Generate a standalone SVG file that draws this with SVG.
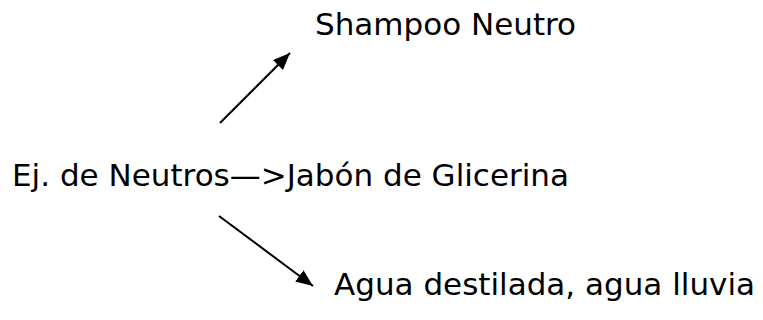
<svg xmlns="http://www.w3.org/2000/svg" width="763" height="320" viewBox="0 0 763 320">
<style>
.t{font-family:"DejaVu Sans",Verdana,sans-serif;font-size:31px;fill:#000}
.c{stroke:#000;stroke-width:2;fill:none}
</style>
<defs>
<marker id="ah" markerUnits="userSpaceOnUse" markerWidth="18" markerHeight="14" refX="17" refY="7" orient="auto">
<path d="M0,0 L17,7 L0,14 Z" fill="#000"/>
</marker>
</defs>
<g id="connectors">
<line class="c" x1="220" y1="123" x2="290" y2="53" marker-end="url(#ah)"/>
<line class="c" x1="219" y1="216" x2="313" y2="286" marker-end="url(#ah)"/>
</g>
<g id="node-main"><text class="t" x="12" y="186">Ej. de Neutros—&gt;Jabón de Glicerina</text></g>
<g id="node-shampoo"><text class="t" x="315" y="35">Shampoo Neutro</text></g>
<g id="node-agua"><text class="t" x="334" y="295">Agua destilada, agua lluvia</text></g>
</svg>
